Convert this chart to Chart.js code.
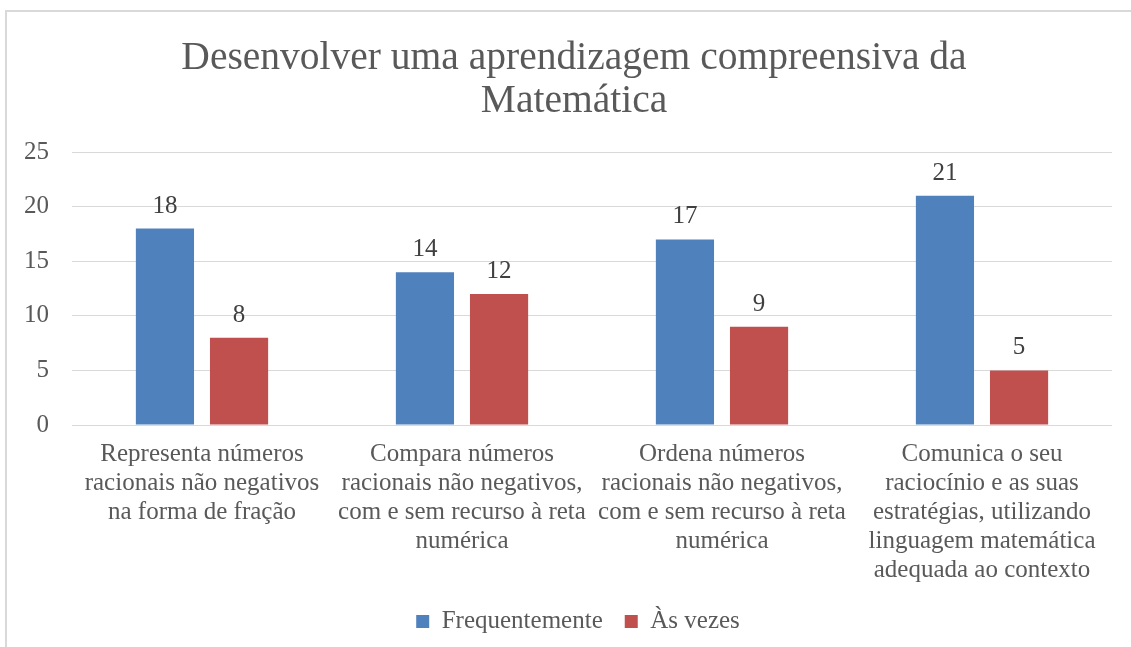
<!DOCTYPE html>
<html>
<head>
<meta charset="utf-8">
<script src="https://cdn.jsdelivr.net/npm/chart.js@4/dist/chart.umd.min.js"></script>
<style>
  html, body { margin: 0; padding: 0; background: #fff; }
  #wrap { position: relative; width: 1131px; height: 647px; overflow: hidden; }
  #frame { position: absolute; left: 5px; top: 10px; width: 1200px; height: 700px;
           border-left: 2px solid #d9d9d9; border-top: 2px solid #d9d9d9; box-sizing: border-box; }
  canvas { position: absolute; left: 0; top: 0; }
</style>
</head>
<body>
<div id="wrap">
  <div id="frame"></div>
  <canvas id="c" width="1131" height="647"></canvas>
</div>
<script>
const titleLines = ["Desenvolver uma aprendizagem compreensiva da", "Matemática"];
const categories = [
  ["Representa números", "racionais não negativos", "na forma de fração"],
  ["Compara números", "racionais não negativos,", "com e sem recurso à reta", "numérica"],
  ["Ordena números", "racionais não negativos,", "com e sem recurso à reta", "numérica"],
  ["Comunica o seu", "raciocínio e as suas", "estratégias, utilizando", "linguagem matemática", "adequada ao contexto"]
];
const seriesNames = ["Frequentemente", "Às vezes"];
const frequentemente = [18, 14, 17, 21];
const asVezes = [8, 12, 9, 5];
const yTicks = [0, 5, 10, 15, 20, 25];

const FONT = "'Liberation Serif', 'Times New Roman', serif";
const TEXT = "#595959";

const dataLabels = {
  id: 'dataLabels',
  afterDatasetsDraw(chart) {
    const ctx = chart.ctx;
    ctx.save();
    ctx.font = "25px " + FONT;
    ctx.fillStyle = "#404040";
    ctx.textAlign = "center";
    ctx.textBaseline = "alphabetic";
    chart.data.datasets.forEach((ds, i) => {
      const meta = chart.getDatasetMeta(i);
      meta.data.forEach((el, j) => {
        ctx.fillText(String(ds.data[j]), el.x, el.y - 16);
      });
    });
    ctx.restore();
  }
};

// shift the title and legend boxes so they are centred like the reference
const boxShift = {
  id: 'boxShift',
  afterLayout(chart) {
    if (chart.titleBlock) { chart.titleBlock.left += 18; chart.titleBlock.right += 18; }
    if (chart.legend) { chart.legend.left += 22; chart.legend.right += 22; }
  }
};

new Chart(document.getElementById('c'), {
  type: 'bar',
  data: {
    labels: categories,
    datasets: [
      { label: seriesNames[0], data: frequentemente, backgroundColor: "#4F81BD",
        categoryPercentage: 0.57, barPercentage: 0.785 },
      { label: seriesNames[1], data: asVezes, backgroundColor: "#C0504D",
        categoryPercentage: 0.57, barPercentage: 0.785 }
    ]
  },
  options: {
    responsive: false,
    animation: false,
    devicePixelRatio: 1,
    layout: { padding: { left: 0, right: 19, top: 0, bottom: 3 } },
    plugins: {
      title: {
        display: true,
        text: titleLines,
        color: TEXT,
        font: { family: FONT, size: 39.5, weight: 'normal', lineHeight: 1.09 },
        padding: { top: 37, bottom: 29 }
      },
      legend: {
        position: 'bottom',
        labels: {
          color: TEXT,
          font: { family: FONT, size: 25 },
          boxWidth: 13, boxHeight: 13, padding: 22
        }
      },
      tooltip: { enabled: false }
    },
    scales: {
      x: {
        grid: { display: false, drawTicks: false },
        border: { display: false },
        ticks: { color: TEXT, font: { family: FONT, size: 25, lineHeight: 1.16 }, padding: 15, maxRotation: 0, autoSkip: false },
        afterFit(s) { s.height = 162; }
      },
      y: {
        min: 0, max: 25,
        grid: { color: "#d9d9d9", lineWidth: 1, drawTicks: false },
        border: { display: false },
        ticks: { stepSize: 5, color: TEXT, font: { family: FONT, size: 25 }, padding: 23,
                 callback: (v) => yTicks.includes(v) ? String(v) : '' },
        afterFit(s) { s.width = 72; }
      }
    }
  },
  plugins: [dataLabels, boxShift]
});
</script>
</body>
</html>
